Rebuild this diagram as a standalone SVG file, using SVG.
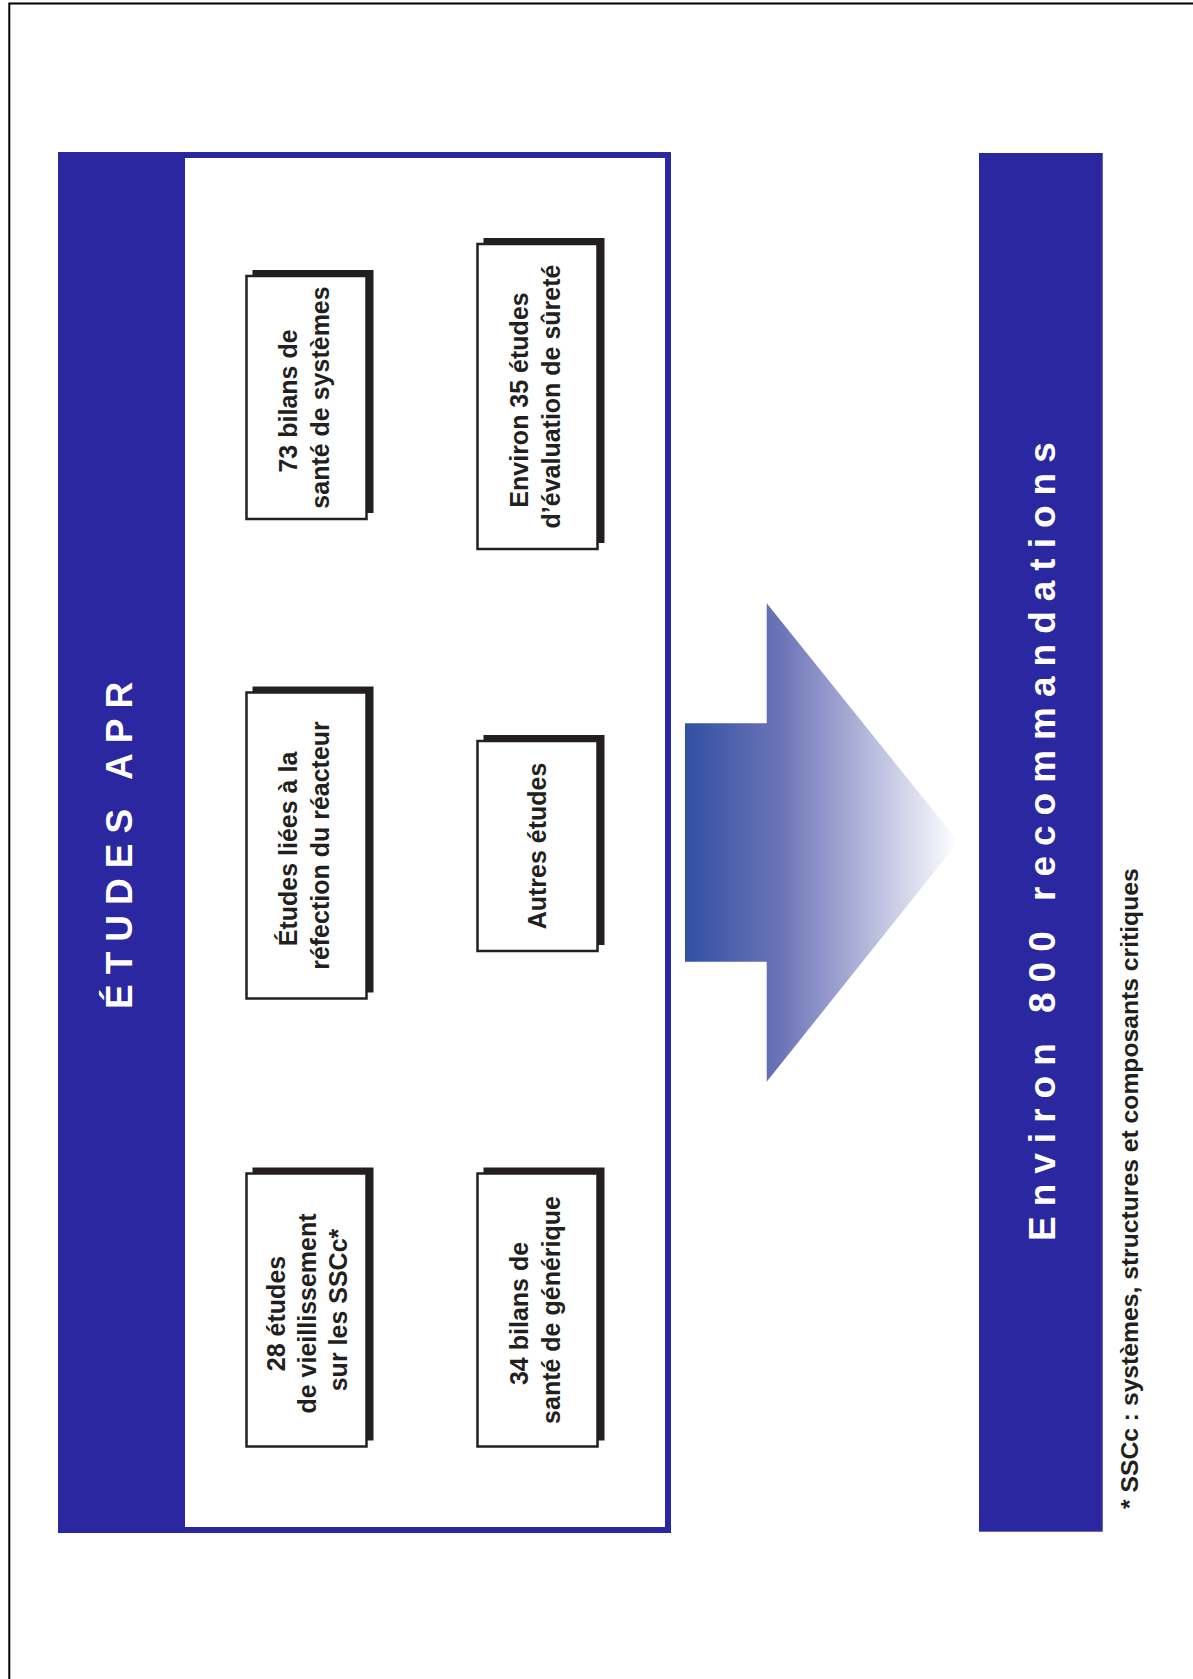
<svg xmlns="http://www.w3.org/2000/svg" width="1193" height="1679" viewBox="0 0 1193 1679">
  <defs>
    <style>
      .page { fill: #ffffff; }
      .edge { fill: none; stroke: #000000; stroke-width: 2; }
      .blue { fill: #2b27a0; }
      .inner { fill: #ffffff; }
      .shadow { fill: #231f20; }
      .card { fill: #ffffff; stroke: #231f20; stroke-width: 2.5; }
      .lbl { font-family: "Liberation Sans", Arial, Helvetica, sans-serif; font-weight: bold; font-size: 25px; fill: #231f20; text-anchor: middle; }
      .head { font-family: "Liberation Sans", Arial, Helvetica, sans-serif; font-weight: bold; font-size: 37px; fill: #ffffff; letter-spacing: 10px; }
      .note { font-family: "Liberation Sans", Arial, Helvetica, sans-serif; font-weight: bold; font-size: 24.7px; fill: #231f20; }
    </style>
    <linearGradient id="arrowFade" gradientUnits="userSpaceOnUse" x1="685" y1="0" x2="958" y2="0">
      <stop offset="0" stop-color="#3150a2"/>
      <stop offset="0.35" stop-color="#6c74b8"/>
      <stop offset="1" stop-color="#ffffff"/>
    </linearGradient>
  </defs>

  <rect class="page" x="0" y="0" width="1193" height="1679"/>
  <!-- page frame, running off the right and bottom edges -->
  <rect class="edge" x="9.3" y="3.5" width="1220" height="1720"/>

  <!-- left block: ÉTUDES APR -->
  <g id="etudes-apr">
    <rect class="blue" x="58" y="152" width="613" height="1381"/>
    <rect class="inner" x="185" y="158" width="480" height="1369"/>
    <text class="head" transform="translate(131.7 1009) rotate(-90)" x="0" y="0">ÉTUDES APR</text>
  </g>

  <!-- study boxes: dark offset shadow, white card, rotated label -->
  <g id="box-vieillissement">
    <rect class="shadow" x="252.5" y="1167.5" width="121" height="273"/>
    <rect class="card" x="246.5" y="1173.5" width="120" height="273"/>
    <text class="lbl" transform="translate(306.5 1310) rotate(-90)">
      <tspan x="0" y="-22">28  études</tspan>
      <tspan x="0" y="9">de vieillissement</tspan>
      <tspan x="0" y="40">sur les SSCc*</tspan>
    </text>
  </g>

  <g id="box-generique">
    <rect class="shadow" x="483.5" y="1167.5" width="121" height="273"/>
    <rect class="card" x="477.5" y="1173.5" width="120" height="273"/>
    <text class="lbl" transform="translate(537.5 1310) rotate(-90)">
      <tspan x="0" y="-9.5">34 bilans de</tspan>
      <tspan x="0" y="22.5">santé de générique</tspan>
    </text>
  </g>

  <g id="box-refection">
    <rect class="shadow" x="252.5" y="686.5" width="121" height="306"/>
    <rect class="card" x="246.5" y="692.5" width="120" height="306"/>
    <text class="lbl" transform="translate(306.5 845.5) rotate(-90)">
      <tspan x="0" y="-9.5">Études  liées à la</tspan>
      <tspan x="0" y="22.5">réfection du réacteur</tspan>
    </text>
  </g>

  <g id="box-autres">
    <rect class="shadow" x="483.5" y="735" width="121" height="210"/>
    <rect class="card" x="477.5" y="741" width="120" height="210"/>
    <text class="lbl" transform="translate(537.5 846) rotate(-90)">
      <tspan x="0" y="8">Autres études</tspan>
    </text>
  </g>

  <g id="box-systemes">
    <rect class="shadow" x="252.5" y="270" width="121" height="243"/>
    <rect class="card" x="246.5" y="276" width="120" height="243"/>
    <text class="lbl" transform="translate(306.5 397.5) rotate(-90)">
      <tspan x="0" y="-9.5">73  bilans de</tspan>
      <tspan x="0" y="22.5">santé de systèmes</tspan>
    </text>
  </g>

  <g id="box-surete">
    <rect class="shadow" x="483.5" y="238" width="121" height="305"/>
    <rect class="card" x="477.5" y="244" width="120" height="305"/>
    <text class="lbl" transform="translate(537.5 396.5) rotate(-90)">
      <tspan x="0" y="-9.5">Environ 35 études</tspan>
      <tspan x="0" y="22.5">d’évaluation de sûreté</tspan>
    </text>
  </g>

  <!-- flow from the studies to the recommendations -->
  <g id="connectors">
    <polygon fill="url(#arrowFade)" points="685,723.3 766.7,723.3 766.7,603.3 958.3,841.7 766.7,1081.7 766.7,961.7 685,961.7"/>
  </g>

  <!-- right block: recommendations -->
  <g id="recommandations">
    <rect class="blue" x="979" y="153" width="123.7" height="1378.7"/>
    <text class="head" transform="translate(1055 1241) rotate(-90)" x="0" y="0">Environ 800 recommandations</text>
  </g>

  <!-- footnote -->
  <text class="note" transform="translate(1138 1509) rotate(-90)" x="0" y="0">* SSCc : systèmes, structures et composants critiques</text>
</svg>
